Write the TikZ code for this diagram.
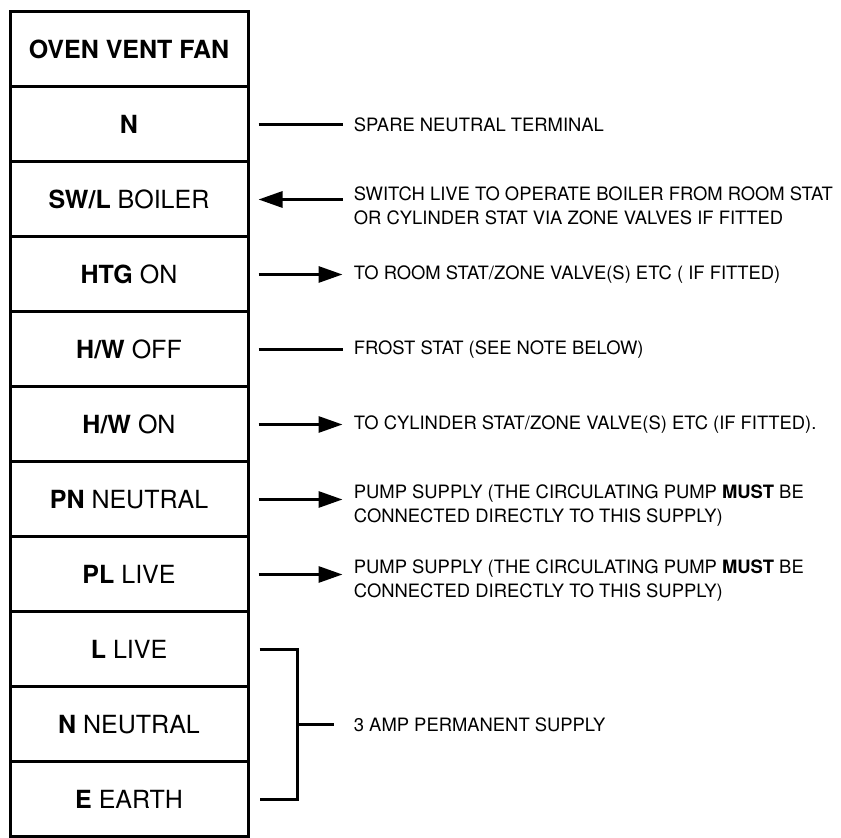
\documentclass[tikz,border=0pt]{standalone}
\usepackage{fontspec}
\setmainfont{TeX Gyre Heros}
\usetikzlibrary{arrows.meta, positioning}

\begin{document}
\begin{tikzpicture}[x=0.5pt, y=-0.5pt]
    \tikzstyle{term} = [draw, line width=1.5pt, rectangle, minimum width=119pt, minimum height=37.5pt, inner sep=0pt, font=\fontsize{12.5}{14}\selectfont]
    \tikzstyle{note} = [right=52pt of #1.east, anchor=west, align=left, inner sep=0pt, font=\fontsize{9.2}{12}\selectfont]
    \tikzstyle{wire} = [line width=1.5pt, shorten >=10pt]
    \tikzstyle{tip} = [-{Triangle[length=12pt, width=8pt]}]
    \tikzstyle{tail} = [{Triangle[length=12pt, width=8pt]}-]

    \useasboundingbox (0,0) rectangle (841,838);

    % terminal strip
    \foreach \name/\txt [count=\i] in {fan/{\textbf{OVEN VENT FAN}}, n/{\textbf{N}}, swl/{\textbf{SW/L} BOILER}, htg/{\textbf{HTG} ON}, hwoff/{\textbf{H/W} OFF}, hwon/{\textbf{H/W} ON}, pn/{\textbf{PN} NEUTRAL}, pl/{\textbf{PL} LIVE}, l/{\textbf{L} LIVE}, nn/{\textbf{N} NEUTRAL}, e/{\textbf{E} EARTH}}
    \node[term] (\name) at (129, {12+75*(\i-0.5)}) {\txt};

    % notes
    \node[note=n] (n-note) {SPARE NEUTRAL TERMINAL};
    \node[note=swl, yshift=-3pt] (swl-note) {SWITCH LIVE TO OPERATE BOILER FROM ROOM STAT\\OR CYLINDER STAT VIA ZONE VALVES IF FITTED};
    \node[note=htg] (htg-note) {TO ROOM STAT/ZONE VALVE(S) ETC ( IF FITTED)};
    \node[note=hwoff] (hwoff-note) {FROST STAT (SEE NOTE BELOW)};
    \node[note=hwon] (hwon-note) {TO CYLINDER STAT/ZONE VALVE(S) ETC (IF FITTED).};
    \node[note=pn, yshift=-3pt] (pn-note) {PUMP SUPPLY (THE CIRCULATING PUMP \textbf{MUST} BE\\CONNECTED DIRECTLY TO THIS SUPPLY)};
    \node[note=pl, yshift=-3pt] (pl-note) {PUMP SUPPLY (THE CIRCULATING PUMP \textbf{MUST} BE\\CONNECTED DIRECTLY TO THIS SUPPLY)};
    \node[note=nn] (nn-note) {3 AMP PERMANENT SUPPLY};

    % connectors
    \foreach \from/\how in {n/wire, swl/tail, htg/tip, hwoff/wire, hwon/tip, pn/tip, pl/tip}
    \draw [wire, \how] ([xshift=4.5pt]\from.east) -- ([xshift=4.5pt]\from.east -| \from-note.west);

    % permanent supply bracket
    \draw [line width=1.5pt] ([xshift=5pt]l.east) -| ([xshift=24pt]e.east) -- ([xshift=5pt]e.east);
    \draw [wire] ([xshift=24pt]nn.east) -- (nn-note.west);
\end{tikzpicture}
\end{document}
